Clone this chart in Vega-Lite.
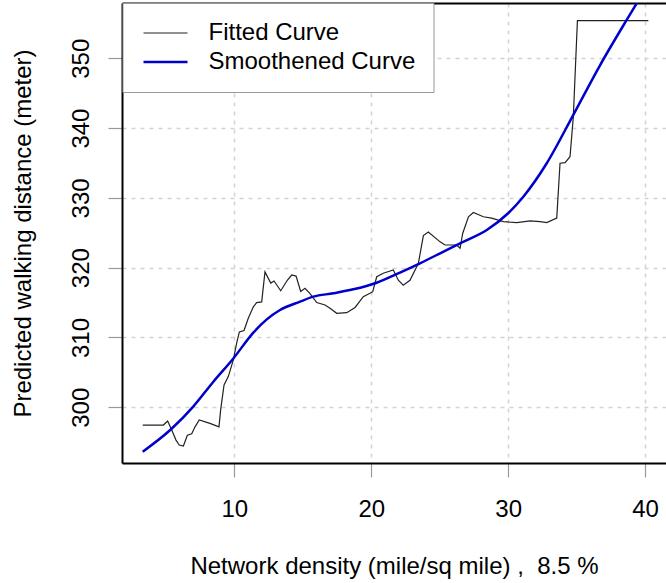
{
  "$schema": "https://vega.github.io/schema/vega-lite/v6.json",
  "width": 544,
  "height": 460,
  "autosize": {"type": "none"},
  "padding": {"left": 122, "top": 3, "right": 0, "bottom": 120},
  "background": "white",
  "config": {
    "view": {"stroke": null},
    "font": "Liberation Sans",
    "axis": {
      "labelFont": "Liberation Sans",
      "titleFont": "Liberation Sans",
      "labelFontSize": 24,
      "titleFontSize": 24,
      "titleFontWeight": "normal",
      "labelColor": "#000000",
      "titleColor": "#000000",
      "tickSize": 14,
      "tickColor": "#999999",
      "tickWidth": 1.2,
      "domainColor": "#000000",
      "domainWidth": 2,
      "gridColor": "#d3d3d3",
      "gridDash": [4, 5],
      "gridWidth": 1.5,
      "labelFlush": false,
      "labelOverlap": false
    }
  },
  "data": {
    "values": [
      {"x": 3.31, "y": 297.46, "curve": "Fitted Curve"},
      {"x": 4.82, "y": 297.46, "curve": "Fitted Curve"},
      {"x": 5.13, "y": 298.04, "curve": "Fitted Curve"},
      {"x": 5.43, "y": 296.75, "curve": "Fitted Curve"},
      {"x": 5.74, "y": 295.3, "curve": "Fitted Curve"},
      {"x": 5.98, "y": 294.6, "curve": "Fitted Curve"},
      {"x": 6.28, "y": 294.46, "curve": "Fitted Curve"},
      {"x": 6.57, "y": 296.0, "curve": "Fitted Curve"},
      {"x": 6.89, "y": 296.2, "curve": "Fitted Curve"},
      {"x": 7.13, "y": 297.2, "curve": "Fitted Curve"},
      {"x": 7.44, "y": 298.2, "curve": "Fitted Curve"},
      {"x": 8.22, "y": 297.7, "curve": "Fitted Curve"},
      {"x": 8.88, "y": 297.2, "curve": "Fitted Curve"},
      {"x": 9.0, "y": 299.6, "curve": "Fitted Curve"},
      {"x": 9.25, "y": 303.2, "curve": "Fitted Curve"},
      {"x": 9.56, "y": 304.4, "curve": "Fitted Curve"},
      {"x": 9.93, "y": 306.8, "curve": "Fitted Curve"},
      {"x": 10.17, "y": 309.2, "curve": "Fitted Curve"},
      {"x": 10.37, "y": 310.8, "curve": "Fitted Curve"},
      {"x": 10.71, "y": 311.0, "curve": "Fitted Curve"},
      {"x": 11.02, "y": 312.75, "curve": "Fitted Curve"},
      {"x": 11.39, "y": 314.4, "curve": "Fitted Curve"},
      {"x": 11.63, "y": 315.0, "curve": "Fitted Curve"},
      {"x": 12.0, "y": 315.1, "curve": "Fitted Curve"},
      {"x": 12.24, "y": 319.4, "curve": "Fitted Curve"},
      {"x": 12.66, "y": 317.8, "curve": "Fitted Curve"},
      {"x": 12.9, "y": 318.1, "curve": "Fitted Curve"},
      {"x": 13.39, "y": 316.7, "curve": "Fitted Curve"},
      {"x": 13.87, "y": 318.2, "curve": "Fitted Curve"},
      {"x": 14.19, "y": 318.95, "curve": "Fitted Curve"},
      {"x": 14.51, "y": 318.8, "curve": "Fitted Curve"},
      {"x": 14.85, "y": 316.6, "curve": "Fitted Curve"},
      {"x": 15.16, "y": 317.05, "curve": "Fitted Curve"},
      {"x": 15.53, "y": 316.3, "curve": "Fitted Curve"},
      {"x": 16.02, "y": 315.0, "curve": "Fitted Curve"},
      {"x": 16.63, "y": 314.66, "curve": "Fitted Curve"},
      {"x": 16.99, "y": 314.2, "curve": "Fitted Curve"},
      {"x": 17.48, "y": 313.47, "curve": "Fitted Curve"},
      {"x": 18.21, "y": 313.55, "curve": "Fitted Curve"},
      {"x": 18.82, "y": 314.3, "curve": "Fitted Curve"},
      {"x": 19.42, "y": 315.85, "curve": "Fitted Curve"},
      {"x": 19.91, "y": 316.33, "curve": "Fitted Curve"},
      {"x": 20.11, "y": 316.56, "curve": "Fitted Curve"},
      {"x": 20.4, "y": 318.7, "curve": "Fitted Curve"},
      {"x": 20.88, "y": 319.2, "curve": "Fitted Curve"},
      {"x": 21.61, "y": 319.67, "curve": "Fitted Curve"},
      {"x": 21.98, "y": 318.2, "curve": "Fitted Curve"},
      {"x": 22.34, "y": 317.5, "curve": "Fitted Curve"},
      {"x": 22.83, "y": 318.2, "curve": "Fitted Curve"},
      {"x": 23.44, "y": 320.6, "curve": "Fitted Curve"},
      {"x": 23.81, "y": 324.6, "curve": "Fitted Curve"},
      {"x": 24.17, "y": 325.1, "curve": "Fitted Curve"},
      {"x": 25.03, "y": 323.7, "curve": "Fitted Curve"},
      {"x": 25.39, "y": 323.25, "curve": "Fitted Curve"},
      {"x": 26.25, "y": 323.25, "curve": "Fitted Curve"},
      {"x": 26.49, "y": 322.78, "curve": "Fitted Curve"},
      {"x": 26.68, "y": 324.9, "curve": "Fitted Curve"},
      {"x": 27.1, "y": 327.3, "curve": "Fitted Curve"},
      {"x": 27.46, "y": 327.9, "curve": "Fitted Curve"},
      {"x": 28.19, "y": 327.3, "curve": "Fitted Curve"},
      {"x": 28.8, "y": 327.1, "curve": "Fitted Curve"},
      {"x": 29.65, "y": 326.6, "curve": "Fitted Curve"},
      {"x": 30.63, "y": 326.45, "curve": "Fitted Curve"},
      {"x": 31.6, "y": 326.7, "curve": "Fitted Curve"},
      {"x": 32.33, "y": 326.6, "curve": "Fitted Curve"},
      {"x": 32.82, "y": 326.45, "curve": "Fitted Curve"},
      {"x": 33.55, "y": 327.1, "curve": "Fitted Curve"},
      {"x": 33.79, "y": 334.96, "curve": "Fitted Curve"},
      {"x": 34.16, "y": 335.05, "curve": "Fitted Curve"},
      {"x": 34.52, "y": 335.9, "curve": "Fitted Curve"},
      {"x": 34.76, "y": 341.6, "curve": "Fitted Curve"},
      {"x": 35.06, "y": 355.39, "curve": "Fitted Curve"},
      {"x": 40.24, "y": 355.39, "curve": "Fitted Curve"},
      {"x": 3.31, "y": 293.64, "curve": "Smoothened Curve"},
      {"x": 5.38, "y": 296.85, "curve": "Smoothened Curve"},
      {"x": 7.0, "y": 300.1, "curve": "Smoothened Curve"},
      {"x": 8.47, "y": 303.67, "curve": "Smoothened Curve"},
      {"x": 9.93, "y": 307.0, "curve": "Smoothened Curve"},
      {"x": 11.39, "y": 310.7, "curve": "Smoothened Curve"},
      {"x": 12.37, "y": 312.6, "curve": "Smoothened Curve"},
      {"x": 13.34, "y": 313.94, "curve": "Smoothened Curve"},
      {"x": 14.8, "y": 315.13, "curve": "Smoothened Curve"},
      {"x": 15.77, "y": 315.85, "curve": "Smoothened Curve"},
      {"x": 17.23, "y": 316.33, "curve": "Smoothened Curve"},
      {"x": 18.69, "y": 316.9, "curve": "Smoothened Curve"},
      {"x": 20.4, "y": 317.85, "curve": "Smoothened Curve"},
      {"x": 22.1, "y": 319.3, "curve": "Smoothened Curve"},
      {"x": 23.56, "y": 320.63, "curve": "Smoothened Curve"},
      {"x": 25.03, "y": 322.06, "curve": "Smoothened Curve"},
      {"x": 26.49, "y": 323.5, "curve": "Smoothened Curve"},
      {"x": 28.44, "y": 325.4, "curve": "Smoothened Curve"},
      {"x": 30.0, "y": 327.8, "curve": "Smoothened Curve"},
      {"x": 31.11, "y": 330.17, "curve": "Smoothened Curve"},
      {"x": 32.82, "y": 334.96, "curve": "Smoothened Curve"},
      {"x": 34.76, "y": 341.9, "curve": "Smoothened Curve"},
      {"x": 36.71, "y": 349.0, "curve": "Smoothened Curve"},
      {"x": 38.66, "y": 355.5, "curve": "Smoothened Curve"},
      {"x": 39.4, "y": 357.9, "curve": "Smoothened Curve"},
      {"x": 40.24, "y": 360.6, "curve": "Smoothened Curve"}
    ]
  },
  "encoding": {
    "y": {
      "field": "y",
      "type": "quantitative",
      "scale": {"domain": [292.02, 357.92], "nice": false, "zero": false},
      "axis": {
        "values": [300, 310, 320, 330, 340, 350],
        "format": "d",
        "title": "Predicted walking distance (meter)",
        "titlePadding": 34,
        "labelAngle": -90,
        "labelAlign": "center",
        "labelBaseline": "alphabetic",
        "labelPadding": 20,
        "grid": true
      }
    },
    "color": {
      "field": "curve",
      "type": "nominal",
      "scale": {"domain": ["Fitted Curve", "Smoothened Curve"], "range": ["#222222", "#0000CD"]},
      "legend": {
        "orient": "none",
        "legendX": 0.5,
        "legendY": 0,
        "title": null,
        "labelFontSize": 24,
        "labelFont": "Liberation Sans",
        "labelColor": "#000000",
        "labelLimit": 400,
        "symbolType": "M-2.75,0H2.75",
        "symbolSize": 256,
        "symbolOffset": 13,
        "labelOffset": 31,
        "padding": 18,
        "rowPadding": 5,
        "strokeColor": "#999999",
        "fillColor": "white"
      }
    },
    "strokeWidth": {
      "field": "curve",
      "type": "nominal",
      "scale": {"domain": ["Fitted Curve", "Smoothened Curve"], "range": [1.2, 2.5]},
      "legend": {
        "orient": "none",
        "legendX": 0.5,
        "legendY": 0,
        "title": null
      }
    }
  },
  "layer": [
    {
      "transform": [{"filter": "datum.curve == 'Fitted Curve'"}],
      "mark": {"type": "line", "clip": true},
      "encoding": {
        "x": {
          "field": "x",
          "type": "quantitative",
          "scale": {"domain": [1.797, 41.53], "nice": false, "zero": false},
          "axis": {
            "orient": "bottom",
            "values": [10, 20, 30, 40],
            "format": "d",
            "title": "Network density (mile/sq mile) ,\u00a0 8.5 %",
            "titleBaseline": "alphabetic",
            "titlePadding": 52,
            "labelBaseline": "alphabetic",
            "labelPadding": 39,
            "grid": true
          }
        }
      }
    },
    {
      "transform": [{"filter": "datum.curve == 'Smoothened Curve'"}],
      "mark": {"type": "line", "clip": true, "interpolate": "monotone"},
      "encoding": {
        "x": {
          "field": "x",
          "type": "quantitative",
          "axis": {
            "orient": "top",
            "labels": false,
            "ticks": false,
            "grid": false,
            "title": null
          }
        }
      }
    }
  ],
  "resolve": {"axis": {"x": "independent"}}
}
